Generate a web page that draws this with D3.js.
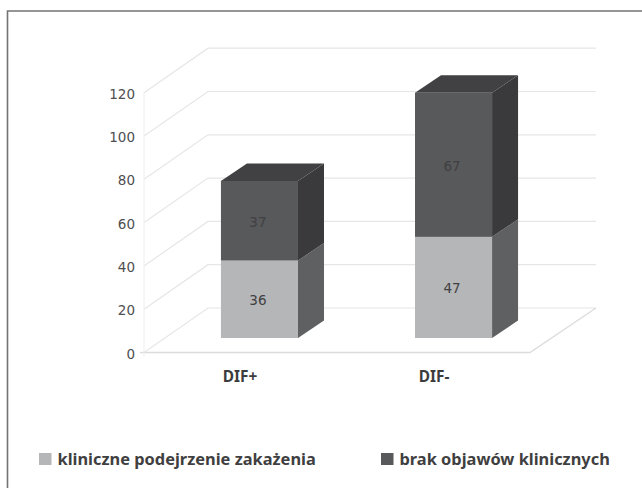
<!DOCTYPE html>
<html lang="pl">
<head>
<meta charset="UTF-8">
<title>DIF</title>
<script src="https://d3js.org/d3.v7.min.js"></script>
<style>
    body { margin: 0; background: #fff; overflow: hidden; }
    svg { display: block; font-family: "DejaVu Sans", sans-serif; }
    .tick-label { font-size: 13.5px; fill: #4e4e50; }
    .cat-label { font-family: "Noto Sans", sans-serif; font-size: 15.4px; font-weight: bold; fill: #3c3c3e; }
    .legend-label { font-family: "Noto Sans", sans-serif; font-size: 16.4px; font-weight: bold; fill: #3f3f41; }
    .value-label { font-size: 13.5px; fill: #404042; text-anchor: middle; }
</style>
</head>
<body>
<svg id="chart" width="642" height="488"></svg>
<script>
const categories = ["DIF+", "DIF-"];
const seriesNames = ["kliniczne podejrzenie zakażenia", "brak objawów klinicznych"];
const lowerValues = [36, 47];
const upperValues = [37, 67];
const yTicks = [0, 20, 40, 60, 80, 100, 120];

const svg = d3.select("#chart");

svg.append("path")
    .attr("d", "M7.5,488V11H642")
    .attr("fill", "none")
    .attr("stroke", "#737375")
    .attr("stroke-width", 1.6);

// front plane of the axis, the back wall is the same thing shifted by depth
const y = d3.scaleLinear().domain([0, 120]).range([352.5, 92.7]);
const barY = d3.scaleLinear().domain([0, 120]).range([338, 79.8]);
const x = d3.scaleBand().domain(categories).range([144, 530]).paddingInner(0.603).paddingOuter(0.296);
const frontLeft = 144, frontRight = 530;
const backLeft = 208, backRight = 596, wallDy = -44.5;
const barShift = 19.5, barDx = 26, barDy = -17.5;

const grid = svg.append("g").attr("fill", "none");
yTicks.forEach(t => {
    grid.append("path")
        .attr("d", `M${frontLeft},${y(t)}L${backLeft},${y(t) + wallDy}L${backRight},${y(t) + wallDy}`)
        .attr("stroke", "#e6e6e6")
        .attr("stroke-width", 1.2);
    svg.append("text")
        .attr("class", "tick-label")
        .attr("x", 135)
        .attr("y", y(t) + 6)
        .attr("text-anchor", "end")
        .text(t);
});
// floor and left edge
grid.append("path").attr("d", `M${frontLeft - 4},${y(0)}L${frontRight},${y(0)}L${backRight},${y(0) + wallDy}`)
    .attr("stroke", "#dcdcdc").attr("stroke-width", 1.4);
grid.append("path").attr("d", `M${frontLeft},${y(0) + 4}L${frontLeft},${y(120)}`)
    .attr("stroke", "#eeeeee");

function drawBox(xLeft, width, y0, y1, front, side, top) {
    const r = xLeft + width;
    const g = svg.append("g");
    g.append("path")
        .attr("d", `M${r},${y1}L${r + barDx},${y1 + barDy}L${r + barDx},${y0 + barDy}L${r},${y0}Z`)
        .attr("fill", side);
    if (top) {
        g.append("path")
            .attr("d", `M${xLeft},${y1}L${xLeft + barDx},${y1 + barDy}L${r + barDx},${y1 + barDy}L${r},${y1}Z`)
            .attr("fill", top);
    }
    g.append("rect")
        .attr("x", xLeft).attr("y", y1)
        .attr("width", width).attr("height", y0 - y1)
        .attr("fill", front);
}

categories.forEach((c, i) => {
    const left = x(c) + barShift;
    const w = x.bandwidth();
    const split = lowerValues[i];
    const total = lowerValues[i] + upperValues[i];
    drawBox(left, w, barY(0), barY(split), "#b5b6b8", "#5f6062", null);
    drawBox(left, w, barY(split), barY(total), "#58595b", "#3a3a3c", "#414143");
    svg.append("text").attr("class", "value-label")
        .attr("x", left + w / 2 - 1.5).attr("y", barY(split / 2) + 6)
        .text(lowerValues[i]);
    svg.append("text").attr("class", "value-label")
        .attr("x", left + w / 2 - 1.5).attr("y", barY(split + upperValues[i] / 2) + 6)
        .text(upperValues[i]);
    svg.append("text").attr("class", "cat-label")
        .attr("x", x(c) + w / 2).attr("y", 381.5)
        .attr("text-anchor", "middle")
        .text(c);
});

const legendX = [39, 381];
const legendColors = ["#b5b6b8", "#58595b"];
seriesNames.forEach((name, i) => {
    svg.append("rect")
        .attr("x", legendX[i]).attr("y", 453)
        .attr("width", 12.5).attr("height", 12)
        .attr("fill", legendColors[i]);
    svg.append("text").attr("class", "legend-label")
        .attr("x", legendX[i] + 18.5).attr("y", 465)
        .text(name);
});
</script>
</body>
</html>
